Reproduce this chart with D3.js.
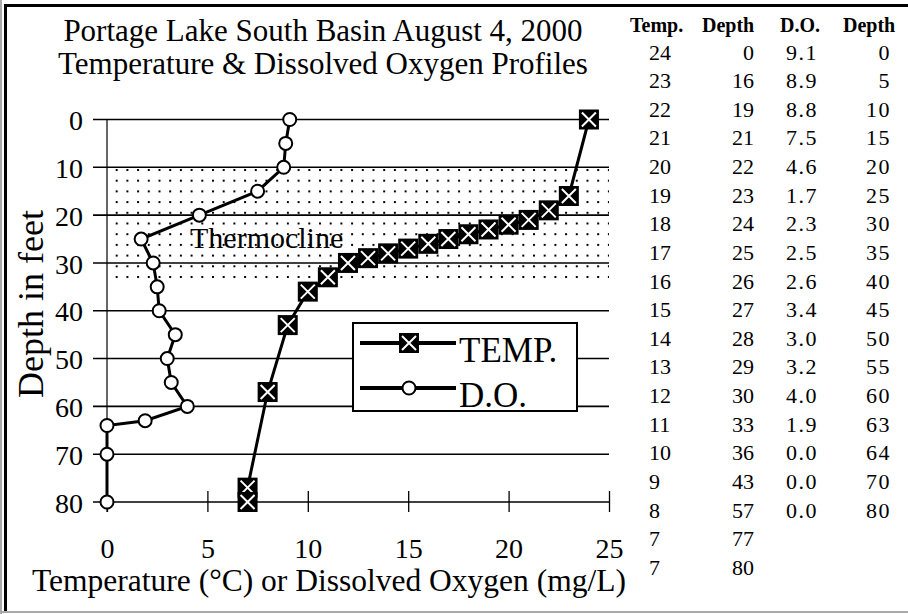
<!DOCTYPE html>
<html>
<head>
<meta charset="utf-8">
<script src="https://cdn.jsdelivr.net/npm/d3@7"></script>
</head>
<body style="margin:0">
<svg id="chart" width="908" height="614" font-family="Liberation Serif"></svg>
<script>
/// data ///
const tempValues  = [24, 23, 22, 21, 20, 19, 18, 17, 16, 15, 14, 13, 12, 11, 10, 9, 8, 7, 7];
const tempDepths  = [0, 16, 19, 21, 22, 23, 24, 25, 26, 27, 28, 29, 30, 33, 36, 43, 57, 77, 80];
const doValues    = [9.1, 8.9, 8.8, 7.5, 4.6, 1.7, 2.3, 2.5, 2.6, 3.4, 3.0, 3.2, 4.0, 1.9, 0.0, 0.0, 0.0];
const doDepths    = [0, 5, 10, 15, 20, 25, 30, 35, 40, 45, 50, 55, 60, 63, 64, 70, 80];
const xTicks      = [0, 5, 10, 15, 20, 25];
const yTicks      = [0, 10, 20, 30, 40, 50, 60, 70, 80];
const thermocline = [10, 33.5];
const tableHeads  = ["Temp.", "Depth", "D.O.", "Depth"];
const titleLines  = ["Portage Lake South Basin August 4, 2000", "Temperature & Dissolved Oxygen Profiles"];

/// dimensions ///
const width = 908, height = 614;
const plot = {left: 107, right: 609, top: 119.5, bottom: 502};
const serif = "Liberation Serif";

const svg = d3.select("#chart");

// frame
svg.append("line").attr("x1", 1).attr("x2", 1).attr("y1", 0).attr("y2", height).attr("stroke", "#aaa").attr("stroke-width", 2);
svg.append("line").attr("x1", 0).attr("x2", width).attr("y1", 612).attr("y2", 612).attr("stroke", "#aaa").attr("stroke-width", 2);
svg.append("line").attr("x1", 5.5).attr("x2", 5.5).attr("y1", 4).attr("y2", 611).attr("stroke", "#000").attr("stroke-width", 3);
svg.append("line").attr("x1", 4).attr("x2", width).attr("y1", 5.5).attr("y2", 5.5).attr("stroke", "#000").attr("stroke-width", 3);

/// scales ///
const xScale = d3.scaleLinear().domain([0, 25]).range([plot.left, plot.right]);
const yScale = d3.scaleLinear().domain([0, 80]).range([plot.top, plot.bottom]);

// dotted pattern for thermocline band
const defs = svg.append("defs");
const pat = defs.append("pattern")
  .attr("id", "dots").attr("patternUnits", "userSpaceOnUse")
  .attr("width", 10.7).attr("height", 10.7)
  .attr("x", 116.7 - 1).attr("y", 170 - 1);
pat.append("rect").attr("width", 2).attr("height", 2).attr("fill", "#000");

svg.append("rect")
  .attr("x", plot.left).attr("width", plot.right - plot.left)
  .attr("y", yScale(thermocline[0])).attr("height", yScale(thermocline[1]) - yScale(thermocline[0]))
  .attr("fill", "url(#dots)");

// title
svg.append("g").selectAll("text").data(titleLines).join("text")
  .attr("x", 323).attr("y", (d, i) => 41 + i * 33)
  .attr("text-anchor", "middle").attr("font-size", 31)
  .attr("font-family", serif)
  .text(d => d);

// gridlines
svg.append("g").selectAll("line").data(yTicks).join("line")
  .attr("x1", plot.left - 14).attr("x2", plot.right)
  .attr("y1", d => yScale(d)).attr("y2", d => yScale(d))
  .attr("stroke", "#000").attr("stroke-width", 1.6);

// y axis
const yAxis = svg.append("g")
  .attr("transform", `translate(${plot.left},0)`)
  .call(d3.axisLeft(yScale).tickValues(yTicks).tickSize(0).tickPadding(24));
yAxis.select(".domain").remove();
yAxis.attr("font-family", serif).attr("font-size", 28);
yAxis.selectAll("text").attr("font-family", serif).attr("dy", "0.36em");
svg.append("line").attr("x1", plot.left).attr("x2", plot.left)
  .attr("y1", plot.top).attr("y2", plot.bottom + 10).attr("stroke", "#000").attr("stroke-width", 1.2);

// x axis
const xAxis = svg.append("g")
  .attr("transform", `translate(0,${plot.bottom})`)
  .call(d3.axisBottom(xScale).tickValues(xTicks).tickSize(10).tickPadding(26));
xAxis.select(".domain").remove();
xAxis.attr("font-family", serif).attr("font-size", 28);
xAxis.selectAll(".tick line").attr("y1", d => d === 0 ? 0 : -11).attr("stroke-width", 1.3);
xAxis.selectAll("text").attr("font-family", serif);

// axis titles
svg.append("text").attr("x", 329).attr("y", 591).attr("text-anchor", "middle")
  .attr("font-size", 31.5).attr("font-family", serif)
  .text("Temperature (°C) or Dissolved Oxygen (mg/L)");
svg.append("text").attr("transform", "translate(43,304) rotate(-90)").attr("text-anchor", "middle")
  .attr("font-size", 36).attr("font-family", serif).text("Depth in feet");

// thermocline label
svg.append("text").attr("x", 190).attr("y", 248).attr("font-size", 30)
  .attr("font-family", serif).text("Thermocline");

/// series ///
const tempData = tempValues.map((v, i) => ({x: v, y: tempDepths[i]}));
const doData = doValues.map((v, i) => ({x: v, y: doDepths[i]}));
const line = d3.line().x(d => xScale(d.x)).y(d => yScale(d.y));

svg.append("path").datum(doData).attr("d", line)
  .attr("fill", "none").attr("stroke", "#000").attr("stroke-width", 3);
svg.append("path").datum(tempData).attr("d", line)
  .attr("fill", "none").attr("stroke", "#000").attr("stroke-width", 3);

function squareMarker(g) {
  g.append("rect").attr("x", -10).attr("y", -10).attr("width", 20).attr("height", 20).attr("fill", "#000");
  g.append("path").attr("d", "M-7,-7L7,7M7,-7L-7,7").attr("stroke", "#fff").attr("stroke-width", 2);
}
function circleMarker(g) {
  g.append("circle").attr("r", 6.5).attr("fill", "#fff").attr("stroke", "#000").attr("stroke-width", 2);
}

svg.append("g").selectAll("g").data(doData).join("g")
  .attr("transform", d => `translate(${xScale(d.x)},${yScale(d.y)})`)
  .each(function() { circleMarker(d3.select(this)); });
svg.append("g").selectAll("g").data(tempData).join("g")
  .attr("transform", d => `translate(${xScale(d.x)},${yScale(d.y)})`)
  .each(function() { squareMarker(d3.select(this)); });

/// legend ///
const legend = svg.append("g");
legend.append("rect").attr("x", 353).attr("y", 323).attr("width", 224).attr("height", 88)
  .attr("fill", "#fff").attr("stroke", "#000").attr("stroke-width", 2);
const legendItems = [
  {label: "TEMP.", y: 343, marker: squareMarker},
  {label: "D.O.", y: 388, marker: circleMarker}
];
legendItems.forEach(it => {
  legend.append("line").attr("x1", 360).attr("x2", 456).attr("y1", it.y).attr("y2", it.y)
    .attr("stroke", "#000").attr("stroke-width", 4);
  it.marker(legend.append("g").attr("transform", `translate(409,${it.y})`));
  legend.append("text").attr("x", 459).attr("y", it.y + 19).attr("font-size", 35)
    .attr("font-family", serif).text(it.label);
});

/// data table ///
const table = svg.append("g");
const headX = [630, 702, 780, 843];
table.selectAll(".head").data(tableHeads).join("text").attr("class", "head")
  .attr("x", (d, i) => headX[i]).attr("y", 32)
  .attr("font-size", 20).attr("font-weight", "bold")
  .attr("font-family", serif).text(d => d);

const rowY = i => 59.5 + i * 28.63;
function column(values, x, anchor, fmt, spacing) {
  table.append("g").selectAll("text").data(values).join("text")
    .attr("x", x).attr("y", (d, i) => rowY(i))
    .attr("text-anchor", anchor).attr("font-size", 22)
    .attr("letter-spacing", spacing)
    .attr("font-family", serif)
    .text(fmt);
}
column(tempValues, 649, "start", d => d, 0);
column(tempDepths, 754, "end", d => d, 0);
column(doValues, 786, "start", d => d.toFixed(1), 1.5);
column(doDepths, 891, "end", d => d, 1.5);
</script>
</body>
</html>
